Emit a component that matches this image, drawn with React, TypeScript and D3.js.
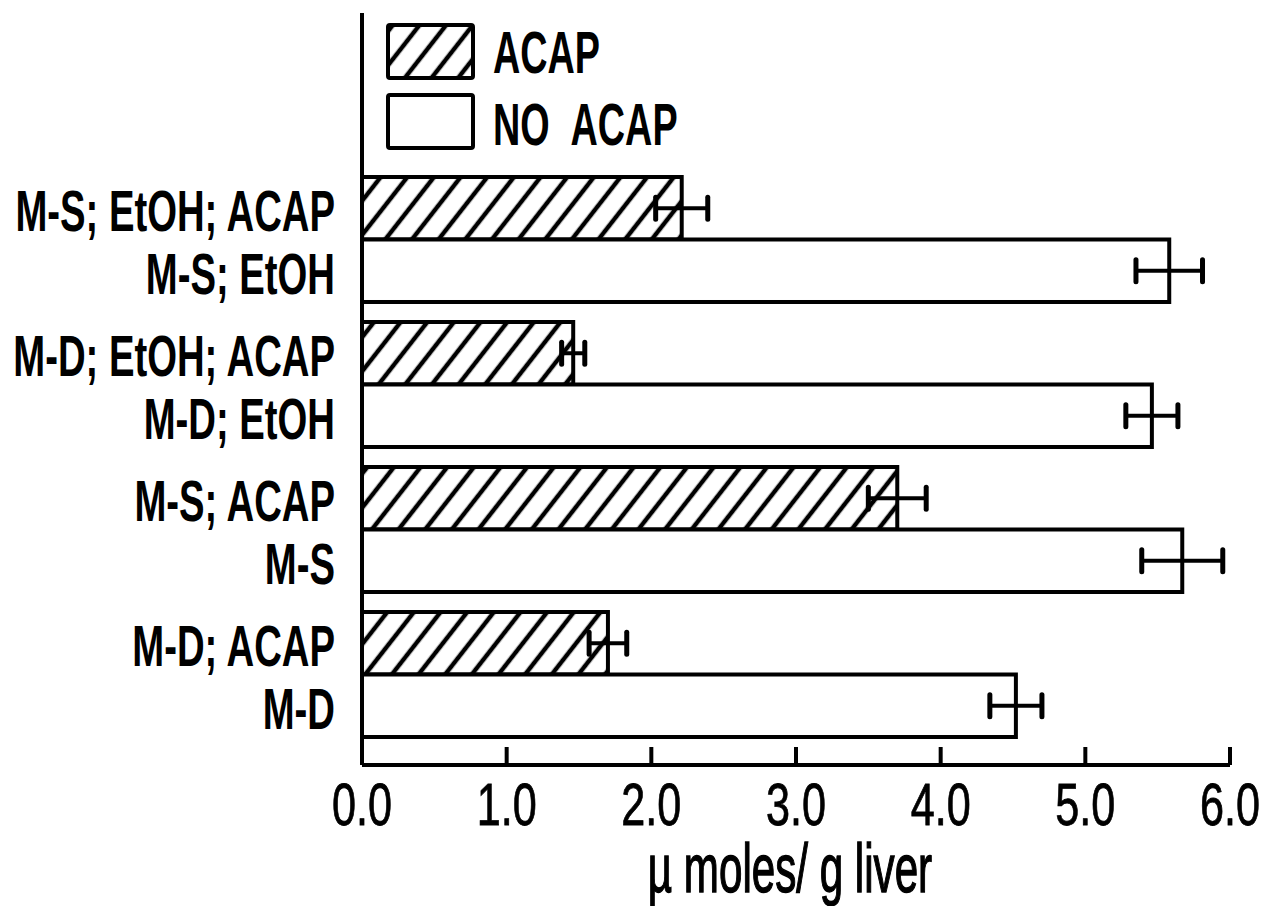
import * as d3 from "d3";

// top to bottom, each group = ACAP bar over NO ACAP bar
const groups = ["M-S; EtOH", "M-D; EtOH", "M-S", "M-D"];
const acapLabels = ["M-S; EtOH; ACAP", "M-D; EtOH; ACAP", "M-S; ACAP", "M-D; ACAP"];
const acapMeans = [2.21, 1.46, 3.7, 1.7];
const acapErr = [0.18, 0.08, 0.2, 0.13];
const noAcapMeans = [5.58, 5.46, 5.67, 4.52];
const noAcapErr = [0.23, 0.18, 0.28, 0.18];
const xTicks = [0, 1, 2, 3, 4, 5, 6];
const series = ["ACAP", "NO ACAP"];

const W = 1268;
const H = 906;
const FONT = "'Liberation Sans', Arial, sans-serif";

const x = d3.scaleLinear().domain([0, 6]).range([362, 1230]);
const yGroup = d3.scaleBand().domain(groups).range([177, 737]).paddingInner(0.138);
const ySub = d3.scaleBand().domain(series).range([0, yGroup.bandwidth()]);

const axisY = 765;

// condensed look: squeeze Liberation Sans horizontally
const Txt = ({ x, y, size, anchor = "start", sx = 0.68, bold = true, sw = 0, children }: any) => (
  <text
    transform={`translate(${x},${y}) scale(${sx},1)`}
    fontFamily={FONT}
    fontWeight={bold ? "bold" : "normal"}
    fontSize={size}
    textAnchor={anchor}
    fill="#000"
    stroke={sw ? "#000" : "none"}
    strokeWidth={sw}
  >
    {children}
  </text>
);

const App = () => {
  const rows = groups.flatMap((g, i) => [
    { label: acapLabels[i], s: "ACAP", v: acapMeans[i], e: acapErr[i], y: yGroup(g)! + ySub("ACAP")! },
    { label: g, s: "NO ACAP", v: noAcapMeans[i], e: noAcapErr[i], y: yGroup(g)! + ySub("NO ACAP")! },
  ]);
  const bh = ySub.bandwidth();

  return (
    <svg width={W} height={H} style={{ position: "absolute", left: 0, top: 0, background: "#fff" }}>
      <defs>
        <pattern id="hatch" patternUnits="userSpaceOnUse" width={21} height={21} patternTransform="rotate(38)">
          <line x1={10} y1={-2} x2={10} y2={23} stroke="#000" strokeWidth={4.5} />
        </pattern>
      </defs>

      {/* bars */}
      {rows.map((r, i) => (
        <g key={i}>
          <rect
            x={x(0)}
            y={r.y}
            width={x(r.v) - x(0)}
            height={bh}
            fill={r.s === "ACAP" ? "url(#hatch)" : "#fff"}
            stroke="#000"
            strokeWidth={4}
          />
          <line x1={x(r.v - r.e)} x2={x(r.v + r.e)} y1={r.y + bh / 2} y2={r.y + bh / 2} stroke="#000" strokeWidth={4} />
          {[r.v - r.e, r.v + r.e].map((c, j) => (
            <line key={j} x1={x(c)} x2={x(c)} y1={r.y + bh / 2 - 11} y2={r.y + bh / 2 + 11} stroke="#000" strokeWidth={5} strokeLinecap="round" />
          ))}
          <Txt x={335} y={r.y + bh / 2 + 23} size={58} anchor="end" sx={0.66}>
            {r.label}
          </Txt>
        </g>
      ))}

      {/* axes */}
      <line x1={x(0)} x2={x(0)} y1={13} y2={axisY} stroke="#000" strokeWidth={4} />
      <line x1={x(0)} x2={x(6)} y1={axisY} y2={axisY} stroke="#000" strokeWidth={4} />
      {xTicks.map((t) => (
        <g key={t}>
          {t > 0 && <line x1={x(t)} x2={x(t)} y1={axisY - 18} y2={axisY} stroke="#000" strokeWidth={4} />}
          <Txt x={x(t)} y={825} size={60} anchor="middle" sx={0.72} bold={false} sw={0.8}>
            {d3.format(".1f")(t)}
          </Txt>
        </g>
      ))}
      <Txt x={790} y={892} size={68} anchor="middle" sx={0.62} bold={false} sw={1.4}>
        µ moles/ g liver
      </Txt>

      {/* legend */}
      {series.map((s, i) => (
        <g key={s}>
          <rect
            x={388}
            y={25 + i * 70}
            width={85}
            height={53}
            fill={s === "ACAP" ? "url(#hatch)" : "#fff"}
            stroke="#000"
            strokeWidth={4}
            rx={2}
          />
          <Txt x={493} y={73 + i * 72} size={59} sx={0.64}>
            {s === "ACAP" ? "ACAP" : "NO\u00a0\u00a0ACAP"}
          </Txt>
        </g>
      ))}
    </svg>
  );
};

export default App;
